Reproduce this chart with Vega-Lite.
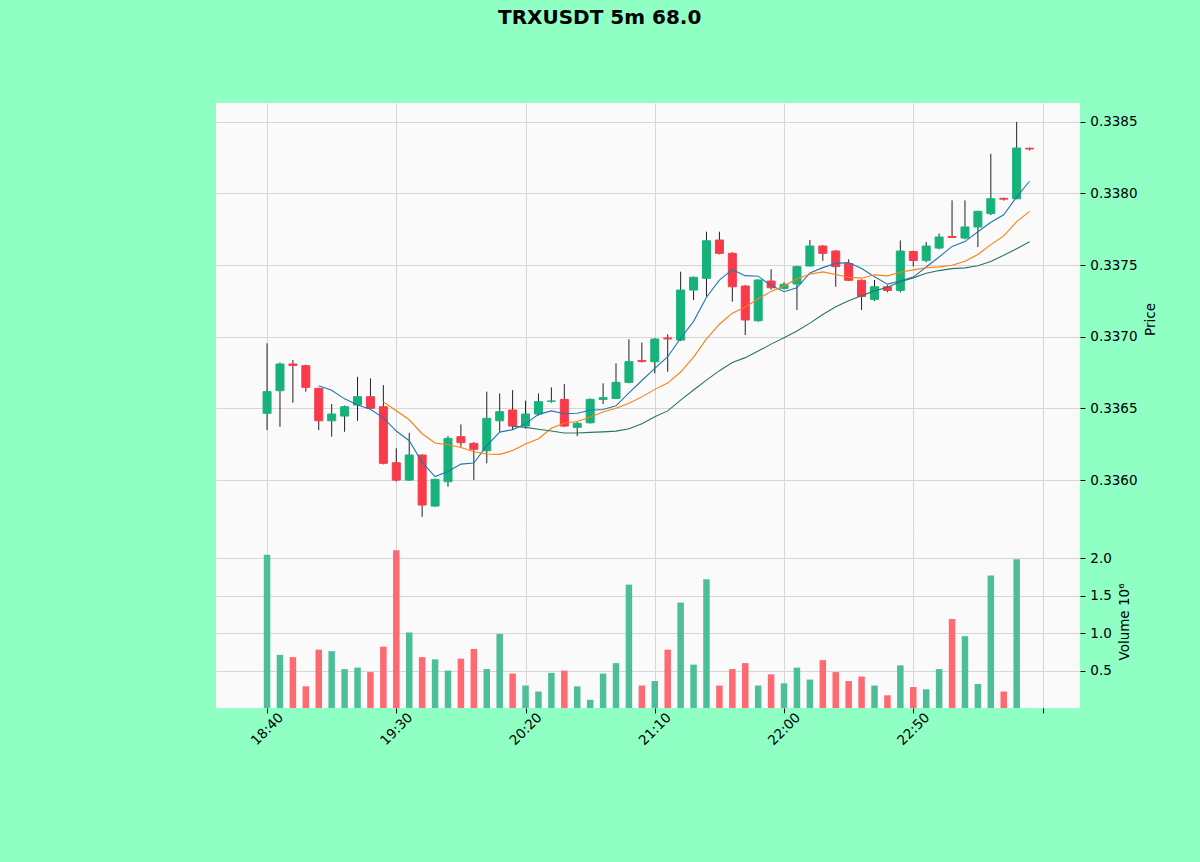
{
  "$schema": "https://vega.github.io/schema/vega-lite/v6.json",
  "background": "#8fffc4",
  "padding": {"left": 216, "top": 8, "right": 43, "bottom": 132},
  "spacing": 0,
  "title": {"text": "TRXUSDT 5m 68.0", "anchor": "start", "frame": "group", "dx": 282, "offset": 59, "baseline": "alphabetic", "font": "DejaVu Sans", "fontSize": 20, "fontWeight": "bold", "color": "#000000"},
  "config": {
    "view": {"stroke": null, "fill": "#fafafa"},
    "font": "DejaVu Sans",
    "axis": {"labelFont": "DejaVu Sans", "titleFont": "DejaVu Sans", "labelFontSize": 13.5, "titleFontSize": 13.5, "titleFontWeight": "normal", "labelColor": "#000000", "titleColor": "#000000", "tickColor": "#000000", "tickSize": 4.9, "labelPadding": 4.9, "gridColor": "#d6d6d6", "gridWidth": 1, "domain": false}
  },
  "datasets": {
    "k": [
      {"i":0,"t":"18:40","o":0.336466,"h":0.336954,"l":0.336349,"c":0.336617,"v":2.05},
      {"i":1,"t":"18:45","o":0.336624,"h":0.336820,"l":0.336372,"c":0.336810,"v":0.71},
      {"i":2,"t":"18:50","o":0.336810,"h":0.336838,"l":0.336540,"c":0.336800,"v":0.68},
      {"i":3,"t":"18:55","o":0.336798,"h":0.336805,"l":0.336617,"c":0.336647,"v":0.29},
      {"i":4,"t":"19:00","o":0.336640,"h":0.336645,"l":0.336349,"c":0.336414,"v":0.78},
      {"i":5,"t":"19:05","o":0.336414,"h":0.336531,"l":0.336303,"c":0.336461,"v":0.76},
      {"i":6,"t":"19:10","o":0.336447,"h":0.336520,"l":0.336337,"c":0.336512,"v":0.52},
      {"i":7,"t":"19:15","o":0.336524,"h":0.336721,"l":0.336414,"c":0.336582,"v":0.54},
      {"i":8,"t":"19:20","o":0.336582,"h":0.336710,"l":0.336495,"c":0.336501,"v":0.48},
      {"i":9,"t":"19:25","o":0.336512,"h":0.336663,"l":0.336110,"c":0.336117,"v":0.82},
      {"i":10,"t":"19:30","o":0.336121,"h":0.336222,"l":0.335990,"c":0.336000,"v":2.11},
      {"i":11,"t":"19:35","o":0.336000,"h":0.336330,"l":0.335995,"c":0.336175,"v":1.01},
      {"i":12,"t":"19:40","o":0.336175,"h":0.336180,"l":0.335744,"c":0.335826,"v":0.68},
      {"i":13,"t":"19:45","o":0.335819,"h":0.336010,"l":0.335815,"c":0.336005,"v":0.65},
      {"i":14,"t":"19:50","o":0.335989,"h":0.336307,"l":0.335954,"c":0.336291,"v":0.50},
      {"i":15,"t":"19:55","o":0.336303,"h":0.336389,"l":0.336233,"c":0.336261,"v":0.66},
      {"i":16,"t":"20:00","o":0.336256,"h":0.336265,"l":0.336000,"c":0.336215,"v":0.79},
      {"i":17,"t":"20:05","o":0.336205,"h":0.336617,"l":0.336117,"c":0.336431,"v":0.52},
      {"i":18,"t":"20:10","o":0.336414,"h":0.336605,"l":0.336337,"c":0.336477,"v":0.99},
      {"i":19,"t":"20:15","o":0.336489,"h":0.336628,"l":0.336349,"c":0.336377,"v":0.46},
      {"i":20,"t":"20:20","o":0.336377,"h":0.336554,"l":0.336360,"c":0.336461,"v":0.30},
      {"i":21,"t":"20:25","o":0.336461,"h":0.336605,"l":0.336450,"c":0.336547,"v":0.22},
      {"i":22,"t":"20:30","o":0.336550,"h":0.336647,"l":0.336540,"c":0.336552,"v":0.47},
      {"i":23,"t":"20:35","o":0.336563,"h":0.336670,"l":0.336370,"c":0.336377,"v":0.50},
      {"i":24,"t":"20:40","o":0.336368,"h":0.336410,"l":0.336307,"c":0.336396,"v":0.29},
      {"i":25,"t":"20:45","o":0.336400,"h":0.336570,"l":0.336395,"c":0.336563,"v":0.11},
      {"i":26,"t":"20:50","o":0.336563,"h":0.336675,"l":0.336531,"c":0.336575,"v":0.46},
      {"i":27,"t":"20:55","o":0.336570,"h":0.336815,"l":0.336565,"c":0.336682,"v":0.60},
      {"i":28,"t":"21:00","o":0.336682,"h":0.336982,"l":0.336675,"c":0.336826,"v":1.65},
      {"i":29,"t":"21:05","o":0.336834,"h":0.336960,"l":0.336820,"c":0.336828,"v":0.30},
      {"i":30,"t":"21:10","o":0.336826,"h":0.336990,"l":0.336745,"c":0.336984,"v":0.36},
      {"i":31,"t":"21:15","o":0.336992,"h":0.337017,"l":0.336756,"c":0.336985,"v":0.78},
      {"i":32,"t":"21:20","o":0.336977,"h":0.337454,"l":0.336970,"c":0.337326,"v":1.41},
      {"i":33,"t":"21:25","o":0.337326,"h":0.337420,"l":0.337256,"c":0.337415,"v":0.58},
      {"i":34,"t":"21:30","o":0.337408,"h":0.337733,"l":0.337280,"c":0.337670,"v":1.72},
      {"i":35,"t":"21:35","o":0.337675,"h":0.337733,"l":0.337575,"c":0.337582,"v":0.30},
      {"i":36,"t":"21:40","o":0.337582,"h":0.337590,"l":0.337245,"c":0.337349,"v":0.52},
      {"i":37,"t":"21:45","o":0.337354,"h":0.337360,"l":0.337012,"c":0.337117,"v":0.60},
      {"i":38,"t":"21:50","o":0.337112,"h":0.337400,"l":0.337105,"c":0.337396,"v":0.30},
      {"i":39,"t":"21:55","o":0.337389,"h":0.337471,"l":0.337330,"c":0.337342,"v":0.45},
      {"i":40,"t":"22:00","o":0.337338,"h":0.337380,"l":0.337330,"c":0.337366,"v":0.33},
      {"i":41,"t":"22:05","o":0.337368,"h":0.337495,"l":0.337187,"c":0.337489,"v":0.54},
      {"i":42,"t":"22:10","o":0.337494,"h":0.337675,"l":0.337490,"c":0.337633,"v":0.38},
      {"i":43,"t":"22:15","o":0.337633,"h":0.337640,"l":0.337530,"c":0.337582,"v":0.64},
      {"i":44,"t":"22:20","o":0.337598,"h":0.337605,"l":0.337349,"c":0.337489,"v":0.48},
      {"i":45,"t":"22:25","o":0.337511,"h":0.337540,"l":0.337390,"c":0.337394,"v":0.36},
      {"i":46,"t":"22:30","o":0.337394,"h":0.337400,"l":0.337187,"c":0.337281,"v":0.42},
      {"i":47,"t":"22:35","o":0.337261,"h":0.337396,"l":0.337250,"c":0.337349,"v":0.30},
      {"i":48,"t":"22:40","o":0.337349,"h":0.337360,"l":0.337310,"c":0.337323,"v":0.17},
      {"i":49,"t":"22:45","o":0.337323,"h":0.337672,"l":0.337310,"c":0.337598,"v":0.57},
      {"i":50,"t":"22:50","o":0.337595,"h":0.337600,"l":0.337490,"c":0.337532,"v":0.28},
      {"i":51,"t":"22:55","o":0.337533,"h":0.337661,"l":0.337520,"c":0.337633,"v":0.25},
      {"i":52,"t":"23:00","o":0.337619,"h":0.337720,"l":0.337610,"c":0.337696,"v":0.52},
      {"i":53,"t":"23:05","o":0.337700,"h":0.337952,"l":0.337690,"c":0.337693,"v":1.19},
      {"i":54,"t":"23:10","o":0.337689,"h":0.337952,"l":0.337680,"c":0.337766,"v":0.96},
      {"i":55,"t":"23:15","o":0.337766,"h":0.337880,"l":0.337626,"c":0.337875,"v":0.32},
      {"i":56,"t":"23:20","o":0.337859,"h":0.338277,"l":0.337850,"c":0.337963,"v":1.77},
      {"i":57,"t":"23:25","o":0.337966,"h":0.337970,"l":0.337950,"c":0.337960,"v":0.22},
      {"i":58,"t":"23:30","o":0.337963,"h":0.338499,"l":0.337960,"c":0.338317,"v":1.99},
      {"i":59,"t":"23:35","o":0.338315,"h":0.338320,"l":0.338300,"c":0.338310,"v":0.001}
    ]
  },
  "vconcat": [
    {
      "width": 864,
      "height": 432,
      "data": {"name": "k"},
      "encoding": {
        "x": {"field": "i", "type": "quantitative", "scale": {"domain": [-3.95, 62.9], "nice": false, "zero": false, "padding": 0}, "axis": {"values": [0, 10, 20, 30, 40, 50, 60], "labels": false, "ticks": false, "title": null, "grid": true}}
      },
      "layer": [
        {
          "mark": {"type": "rule", "color": "#222222", "strokeWidth": 1},
          "encoding": {
            "y": {"field": "l", "type": "quantitative", "scale": {"domain": [0.335617, 0.338631], "nice": false, "zero": false}, "axis": {"orient": "right", "values": [0.336, 0.3365, 0.337, 0.3375, 0.338, 0.3385], "format": ".4f", "title": "Price", "titleAngle": 270, "titleBaseline": "top", "titlePadding": 6, "grid": true}},
            "y2": {"field": "h"}
          }
        },
        {
          "mark": {"type": "bar", "width": 8, "strokeWidth": 1},
          "encoding": {
            "y": {"field": "o", "type": "quantitative"},
            "y2": {"field": "c"},
            "color": {"condition": {"test": "datum.c >= datum.o", "value": "#16b27a"}, "value": "#f93a4a"},
            "stroke": {"condition": {"test": "datum.c >= datum.o", "value": "#16b27a"}, "value": "#f93a4a"}
          }
        },
        {
          "transform": [
            {"window": [{"op": "mean", "field": "c", "as": "ma"}, {"op": "count", "field": "c", "as": "n"}], "frame": [-4, 0], "sort": [{"field": "i"}]},
            {"filter": "datum.n == 5"}
          ],
          "mark": {"type": "line", "color": "#1f77b4", "strokeWidth": 1.1},
          "encoding": {"y": {"field": "ma", "type": "quantitative"}}
        },
        {
          "transform": [
            {"window": [{"op": "mean", "field": "c", "as": "ma"}, {"op": "count", "field": "c", "as": "n"}], "frame": [-9, 0], "sort": [{"field": "i"}]},
            {"filter": "datum.n == 10"}
          ],
          "mark": {"type": "line", "color": "#ff7f0e", "strokeWidth": 1.1},
          "encoding": {"y": {"field": "ma", "type": "quantitative"}}
        },
        {
          "transform": [
            {"window": [{"op": "mean", "field": "c", "as": "ma"}, {"op": "count", "field": "c", "as": "n"}], "frame": [-19, 0], "sort": [{"field": "i"}]},
            {"filter": "datum.n == 20"}
          ],
          "mark": {"type": "line", "color": "#2a7566", "strokeWidth": 1.1},
          "encoding": {"y": {"field": "ma", "type": "quantitative"}}
        }
      ]
    },
    {
      "width": 864,
      "height": 173,
      "data": {"name": "k"},
      "mark": {"type": "bar", "width": 6.5},
      "encoding": {
        "x": {"field": "i", "type": "quantitative", "scale": {"domain": [-3.95, 62.9], "nice": false, "zero": false, "padding": 0}, "axis": {"values": [0, 10, 20, 30, 40, 50, 60], "labelExpr": "['18:40','19:30','20:20','21:10','22:00','22:50',''][datum.value / 10]", "labelAngle": -45, "labelAlign": "center", "labelBaseline": "middle", "labelPadding": 16, "title": null, "grid": true}},
        "y": {"field": "v", "type": "quantitative", "scale": {"domain": [0, 2.313], "nice": false}, "axis": {"orient": "right", "values": [0.5, 1, 1.5, 2], "format": ".1f", "title": "Volume  10⁶", "titleAngle": 270, "titleBaseline": "top", "titlePadding": 6, "grid": true}},
        "color": {"condition": {"test": "datum.c >= datum.o", "value": "#4cbf98"}, "value": "#fd6a72"}
      }
    }
  ]
}
